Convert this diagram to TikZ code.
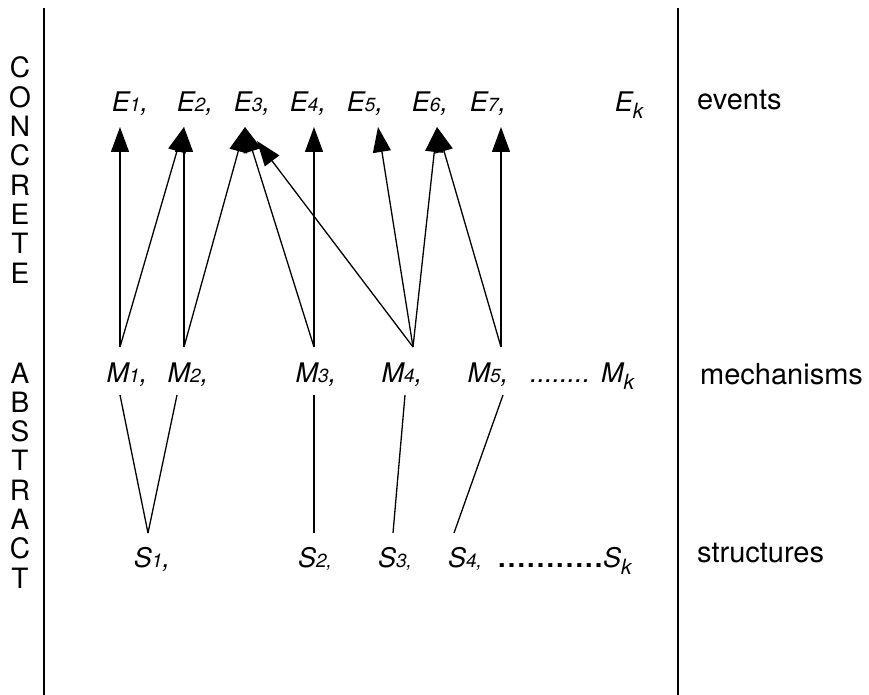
\documentclass[tikz,border=0pt]{standalone}
\usepackage{fontspec}
\setmainfont{TeX Gyre Heros}
\usetikzlibrary{arrows.meta}
\newcommand\smd[1]{{\fontsize{19}{19}\selectfont #1}}
\newcommand\subk{\raisebox{-7pt}{\fontsize{21}{21}\selectfont k}}
\begin{document}
\begin{tikzpicture}[x=1pt,y=-1pt,
  lbl/.style={font=\fontsize{27}{30}\selectfont\itshape, anchor=base, inner sep=0pt},
  side/.style={font=\fontsize{29}{30}\selectfont, anchor=base west, inner sep=0pt},
  vlet/.style={font=\fontsize{28}{30}\selectfont, anchor=base, inner sep=0pt},
  link/.style={line width=1.3pt},
  arr/.style={link, -{Triangle[length=25pt,width=18pt]}},
  frame/.style={line width=1.3pt}
]
\useasboundingbox (0,0) rectangle (869,695);
% frame lines
\draw[frame] (44,8) -- (44,695);
\draw[frame] (678,8) -- (678,695);
% vertical words
\foreach \l [count=\i from 0] in {C,O,N,C,R,E,T,E}
  \node[vlet] (c\i) at (20,78+29.3*\i) {\l};
\foreach \l [count=\i from 0] in {A,B,S,T,R,A,C,T}
  \node[vlet] (a\i) at (20,383+29.3*\i) {\l};
% events
\node[lbl] (E1) at (130,112) {E\smd{1},};
\node[lbl] (E2) at (195,112) {E\smd{2},};
\node[lbl] (E3) at (252,112) {E\smd{3},};
\node[lbl] (E4) at (308,112) {E\smd{4},};
\node[lbl] (E5) at (365,112) {E\smd{5},};
\node[lbl] (E6) at (430,112) {E\smd{6},};
\node[lbl] (E7) at (488,112) {E\smd{7},};
\node[lbl] (Ek) at (629,112) {E\subk};
% mechanisms
\node[lbl] (M1) at (127,382) {M\smd{1},};
\node[lbl] (M2) at (188,382) {M\smd{2},};
\node[lbl] (M3) at (316,382) {M\smd{3},};
\node[lbl] (M4) at (402,382) {M\smd{4},};
\node[lbl] (M5) at (488,382) {M\smd{5},};
\node[lbl, anchor=base west] (Mdots) at (530,382) {........};
\node[lbl, anchor=base west] (Mk) at (601,382) {M\subk};
% structures
\node[lbl] (S1) at (152,567) {S\smd{1},};
\node[lbl] (S2) at (315,567) {S\smd{2,}};
\node[lbl] (S3) at (395,567) {S\smd{3,}};
\node[lbl] (S4) at (465,567) {S\smd{4,}};
\node[lbl, font=\fontsize{27}{30}\selectfont\bfseries, anchor=base west] (Sdots) at (498,567) {\addfontfeature{LetterSpace=8}...........};
\node[lbl, anchor=base west] (Sk) at (603,567) {S\subk};
% side labels
\node[side] (ev) at (697,110) {events};
\node[side] (me) at (700,384) {mechanisms};
\node[side] (st) at (697,562) {structures};
% connector end points
\coordinate (e1a) at (120,127);
\coordinate (e2a) at (184,127);
\coordinate (e3a) at (245,127);
\coordinate (e3b) at (257,141);
\coordinate (e4a) at (314,127);
\coordinate (e5a) at (378,127);
\coordinate (e6a) at (437,127);
\coordinate (e7a) at (501,127);
\coordinate (m1t) at (120,347);
\coordinate (m2t) at (184,347);
\coordinate (m3t) at (314,347);
\coordinate (m4t) at (413,347);
\coordinate (m5t) at (501,347);
\coordinate (m1b) at (120,395);
\coordinate (m2b) at (177,395);
\coordinate (m3b) at (314,395);
\coordinate (m4b) at (405,395);
\coordinate (m5b) at (503,395);
\coordinate (s1t) at (148,533);
\coordinate (s2t) at (314,533);
\coordinate (s3t) at (393,533);
\coordinate (s4t) at (454,533);
% arrows mechanisms -> events
\draw[arr] (m1t) -- (e1a);
\draw[arr] (m1t) -- (e2a);
\draw[arr] (m2t) -- (e2a);
\draw[arr] (m2t) -- (e3a);
\draw[arr] (m3t) -- (e3a);
\draw[arr] (m3t) -- (e4a);
\draw[arr] (m4t) -- (e3b);
\draw[arr] (m4t) -- (e5a);
\draw[arr] (m4t) -- (e6a);
\draw[arr] (m5t) -- (e6a);
\draw[arr] (m5t) -- (e7a);
% lines mechanisms -- structures
\draw[link] (m1b) -- (s1t);
\draw[link] (m2b) -- (s1t);
\draw[link] (m3b) -- (s2t);
\draw[link] (m4b) -- (s3t);
\draw[link] (m5b) -- (s4t);
\end{tikzpicture}
\end{document}
